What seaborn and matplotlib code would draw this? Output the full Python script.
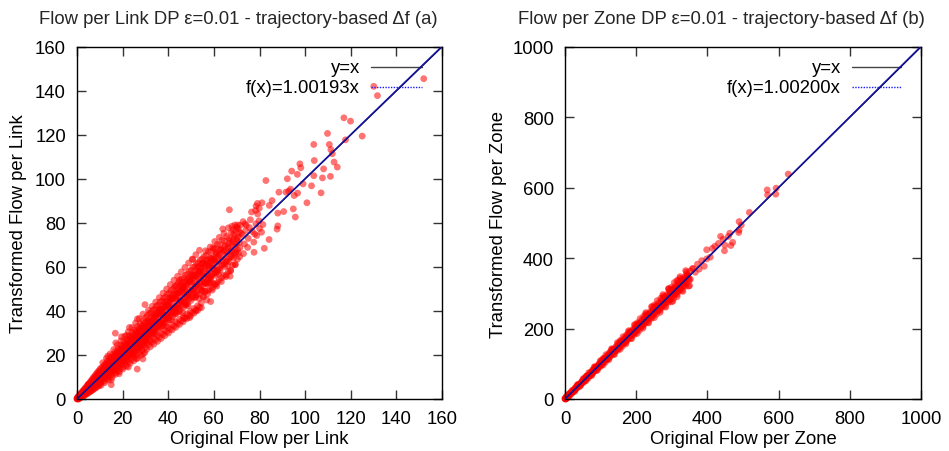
import matplotlib
matplotlib.use("Agg")
import matplotlib.pyplot as plt
import seaborn as sns
import pandas as pd

# ---------------- Panel (a): flow per link ----------------
link_origin_x = [0, 0.2, 0, 0.4, 0.1, 0.8, 0.3]
link_origin_y = [0, 0, 0.2, 0.1, 0.5, 0.0, 0.3]

link_a_x = [0.5,0.7,0.3, 1.0,1.2,0.8, 1.5,1.7,1.3, 2.0,2.2,1.8, 2.5,2.7,2.3, 3.0,3.2,2.8, 3.5,3.7,3.3,
            4.0,4.2,3.8, 4.5,4.7,4.3, 5.0,5.2,4.8, 5.5,5.7,5.3, 6.0,6.2,5.8, 6.5,6.7,6.3, 7.0,7.2,6.8,
            7.5,7.7,7.3, 8.0,8.2,7.8, 8.5,8.7,8.3, 9.0,9.2,8.8, 9.5,9.7,9.3, 10.0,10.2,9.8,
            1.2,2.3,3.4,4.6,5.4,6.6,7.4,8.6,9.4,10.1,2.8,4.1,5.9,7.1,8.3,9.1,3.9,6.2,7.9,9.8,
            0.6,1.4,2.1,2.9,3.6,4.4,5.1,5.9,6.8,7.6,8.4,9.2,9.9,1.9,3.1,4.8,6.4,8.9,5.6,7.3]
link_a_y = [0.2,1.3,0.8, 0.4,1.9,1.1, 0.6,2.5,1.4, 0.9,3.2,2.1, 1.2,3.6,2.4, 1.5,4.4,3.0, 1.8,5.1,3.2,
            2.2,5.6,4.3, 2.4,6.3,4.1, 2.9,7.0,5.4, 3.1,7.6,5.0, 3.5,8.3,6.4, 3.9,9.0,6.1, 4.2,9.8,7.5,
            4.6,10.2,7.0, 5.0,11.1,8.4, 5.3,11.6,8.0, 5.8,12.4,9.6, 6.0,12.9,9.1, 6.6,13.8,10.4,
            0.9,2.8,2.6,5.2,6.3,7.4,8.6,9.3,10.7,8.8,3.9,3.1,4.6,5.9,6.7,11.0,4.9,7.1,9.7,7.9,
            1.0,1.6,1.5,3.6,3.9,4.0,5.8,6.9,6.0,8.3,9.4,8.7,11.6,2.7,2.2,6.5,7.8,10.5,6.1,7.9]

link_b_x = [10.6,10.9,10.4,10.7, 11.2,11.5,11.0,11.3, 11.8,12.1,11.6,11.9, 12.4,12.7,12.2,12.5,
            13.0,13.3,12.8,13.1, 13.6,13.9,13.4,13.7, 14.2,14.5,14.0,14.3, 14.8,15.1,14.6,14.9,
            15.4,15.7,15.2,15.5, 16.0,16.3,15.8,16.1, 16.6,16.9,16.4,16.7, 17.2,17.5,17.0,17.3,
            17.8,18.1,17.6,17.9, 18.4,18.7,18.2,18.5, 19.0,19.3,18.8,19.1, 19.6,19.9,19.4,19.7,
            20.2,20.5,20.0,20.3, 20.8,21.1,20.6,20.9, 21.4,21.7,21.2,21.5, 22.0,22.3,21.8,22.1,
            22.6,22.9,22.4,22.7, 23.2,23.5,23.0,23.3, 23.8,24.1,23.6,23.9, 24.4,24.7,24.2,24.5,
            25.0,25.3,24.8,25.1, 25.6,25.9,25.4,25.7, 26.2,26.5,26.0,26.3, 26.8,27.1,26.6,26.9,
            27.4,27.7,27.2,27.5, 28.0,28.3,27.8,28.1, 28.6,28.9,28.4,28.7, 29.2,29.5,29.0,29.3,
            29.8,30.1,29.6,29.9,
            11.5,12.9,14.4,15.9,17.4,18.9,20.4,21.9,23.4,24.9,26.4,27.9,29.4,
            12.1,13.7,15.2,16.7,18.2,19.7,21.2,22.7,24.2,25.7,27.2,28.7,30.2,
            13.5,17.0,19.5,23.0,26.5,15.0,18.5,22.5,26.0,29.0,16.8,21.6,26.4,28.9,
            10.8,11.2,10.5, 11.6,12.0,11.3, 12.4,12.8,12.1, 13.2,13.6,12.9, 14.0,14.4,13.7,
            14.8,15.2,14.5, 15.6,16.0,15.3, 16.4,16.8,16.1, 17.2,17.6,16.9, 18.0,18.4,17.7,
            18.8,19.2,18.5, 19.6,20.0,19.3, 20.4,20.8,20.1, 21.2,21.6,20.9, 22.0,22.4,21.7,
            22.8,23.2,22.5, 23.6,24.0,23.3, 24.4,24.8,24.1, 25.2,25.6,24.9, 26.0,26.4,25.7,
            26.8,27.2,26.5, 27.6,28.0,27.3, 28.4,28.8,28.1, 29.2,29.6,28.9, 30.0,30.4,29.7]
link_b_y = [7.5,14.2,11.9,9.6, 8.9,14.6,10.3,12.8, 8.1,15.6,12.9,10.6, 9.6,16.0,11.8,14.1,
            9.2,17.3,14.0,11.6, 10.8,17.1,12.9,15.6, 10.1,18.9,15.2,12.8, 11.9,18.4,14.1,16.9,
            11.0,20.2,16.6,13.7, 12.6,19.8,15.3,18.4, 11.9,21.6,17.8,14.6, 13.7,21.1,16.5,19.4,
            12.8,23.0,18.9,15.9, 14.8,22.3,17.6,20.8, 13.9,24.4,20.3,16.8, 15.6,23.8,18.7,22.0,
            14.6,26.0,21.5,17.7, 16.9,25.1,19.9,23.4, 15.8,27.3,22.6,18.9, 17.8,26.5,21.0,24.6,
            16.9,28.8,23.9,19.8, 19.0,27.9,22.1,25.9, 17.8,30.2,25.1,20.9, 20.1,29.2,23.3,27.2,
            18.9,31.5,26.3,22.0, 21.2,30.6,24.4,28.5, 20.0,32.9,27.5,23.1, 22.4,31.9,25.6,29.8,
            21.1,34.2,28.7,24.2, 23.5,33.2,26.8,31.0, 22.2,35.6,30.0,25.3, 24.6,34.5,27.9,32.3,
            23.3,36.9,31.2,26.4,
            12.3,12.1,15.3,15.1,18.4,18.2,21.5,21.3,24.6,24.2,27.7,27.4,30.6,
            11.2,14.6,14.3,17.6,17.2,20.8,20.2,23.9,23.2,26.9,26.1,29.9,29.1,
            19.5,25.5,28.3,32.5,36.4,8.6,11.5,14.5,18.3,20.5,29.9,28.9,13.6,18.2,
            9.1,13.2,6.2, 10.4,13.6,16.5, 10.1,15.7,7.4, 11.9,15.1,18.5, 11.6,17.4,8.6,
            13.4,16.9,20.5, 12.9,19.1,9.8, 15.0,18.7,22.5, 14.4,21.0,11.2, 16.3,20.4,24.6,
            15.9,22.8,12.4, 17.9,22.1,26.5, 17.2,24.6,13.6, 19.4,23.9,28.5, 18.8,26.3,14.9,
            20.8,25.7,30.6, 20.2,28.1,16.2, 22.3,27.4,32.5, 21.6,29.9,17.4, 23.8,29.2,34.6,
            23.0,31.7,18.6, 25.3,30.9,36.6, 24.5,33.4,19.9, 26.7,32.6,38.6, 26.0,35.2,21.1]

link_c_x = [30.5,30.8,30.3,30.6, 31.3,31.6,31.1,31.4, 32.1,32.4,31.9,32.2, 32.9,33.2,32.7,33.0,
            33.7,34.0,33.5,33.8, 34.5,34.8,34.3,34.6, 35.3,35.6,35.1,35.4, 36.1,36.4,35.9,36.2,
            36.9,37.2,36.7,37.0, 37.7,38.0,37.5,37.8, 38.5,38.8,38.3,38.6, 39.3,39.6,39.1,39.4,
            40.1,40.4,39.9,40.2, 40.9,41.2,40.7,41.0, 41.7,42.0,41.5,41.8, 42.5,42.8,42.3,42.6,
            43.3,43.6,43.1,43.4, 44.1,44.4,43.9,44.2, 44.9,45.2,44.7,45.0, 45.7,46.0,45.5,45.8,
            46.5,46.8,46.3,46.6, 47.3,47.6,47.1,47.4, 48.1,48.4,47.9,48.2, 48.9,49.2,48.7,49.0,
            49.7,50.0,49.5,49.8, 50.5,50.8,50.3,50.6, 51.3,51.6,51.1,51.4, 52.1,52.4,51.9,52.2,
            52.9,53.2,52.7,53.0, 53.7,54.0,53.5,53.8, 54.5,54.8,54.3,54.6,
            30.9,32.5,34.1,35.7,37.3,38.9,40.5,42.1,43.7,45.3,46.9,48.5,50.1,51.7,53.3,
            31.7,33.3,36.5,38.1,41.3,43.0,46.1,47.7,50.9,52.5,
            29.8,47.0,49.4,52.1,56.9,58.6,50.8,44.9,63.0,67.1,
            30.8,31.2,30.5, 31.6,32.0,31.3, 32.4,32.8,32.1, 33.2,33.6,32.9, 34.0,34.4,33.7,
            34.8,35.2,34.5, 35.6,36.0,35.3, 36.4,36.8,36.1, 37.2,37.6,36.9, 38.0,38.4,37.7,
            38.8,39.2,38.5, 39.6,40.0,39.3, 40.4,40.8,40.1, 41.2,41.6,40.9, 42.0,42.4,41.7,
            42.8,43.2,42.5, 43.6,44.0,43.3, 44.4,44.8,44.1, 45.2,45.6,44.9, 46.0,46.4,45.7,
            46.8,47.2,46.5, 47.6,48.0,47.3, 48.4,48.8,48.1, 49.2,49.6,48.9, 50.0,50.4,49.7,
            50.8,51.2,50.5, 51.6,52.0,51.3, 52.4,52.8,52.1, 53.2,53.6,52.9, 54.0,54.4,53.7,
            54.8,55.2,54.5]
link_c_y = [25.2,37.8,32.4,28.1, 24.6,38.9,33.5,29.2, 26.3,39.1,34.6,29.6, 25.8,40.4,35.4,30.8,
            27.5,40.9,36.3,31.2, 26.9,42.3,37.4,32.6, 28.8,42.6,38.1,33.0, 28.1,44.0,39.0,34.2,
            30.0,44.5,39.9,34.7, 29.4,45.9,40.8,35.9, 31.2,46.2,41.7,36.4, 30.6,47.6,42.5,37.6,
            32.5,48.0,43.4,38.1, 31.8,49.3,44.2,39.3, 33.7,49.8,45.1,39.8, 33.1,51.1,45.9,41.0,
            35.0,51.5,46.8,41.5, 34.3,52.8,47.6,42.7, 36.2,53.3,48.5,43.2, 35.5,54.5,49.3,44.4,
            37.4,55.0,50.2,44.9, 36.8,56.3,51.0,46.1, 38.7,56.8,51.9,46.6, 38.0,58.0,52.7,47.8,
            39.9,58.5,53.6,48.3, 39.2,59.8,54.4,49.5, 41.2,60.2,55.3,50.0, 40.5,61.5,56.1,51.2,
            42.4,61.9,57.0,51.7, 41.7,63.2,57.8,52.9, 43.7,63.6,58.7,53.4,
            31.5,31.8,35.2,35.0,38.4,38.1,41.7,41.3,44.9,44.5,48.1,47.7,51.3,50.9,54.5,
            34.9,30.3,40.8,34.3,45.8,38.6,50.9,43.1,56.2,47.3,
            42.9,36.7,37.0,40.0,45.0,44.3,63.4,54.1,67.9,55.8,
            27.8,34.9,22.5, 29.3,35.1,40.3, 28.6,37.5,23.7, 30.8,36.8,42.1, 30.1,39.2,24.9,
            32.3,38.5,44.1, 31.5,41.0,26.2, 33.8,40.3,46.1, 33.0,42.8,27.5, 35.2,42.0,48.1,
            34.5,44.5,28.8, 36.7,43.8,50.0, 35.9,46.2,30.0, 38.2,45.5,52.0, 37.4,47.9,31.4,
            39.6,47.2,54.0, 38.9,49.7,32.6, 41.1,48.9,55.8, 40.3,51.5,33.9, 42.6,50.7,57.8,
            41.8,53.2,35.1, 44.0,52.5,59.8, 43.2,55.0,36.5, 45.5,54.2,61.8, 44.8,56.7,37.7,
            47.0,56.0,63.6, 46.2,58.5,39.0, 48.5,57.7,65.6, 47.7,60.2,40.3, 50.0,59.4,67.6,
            49.2,61.9,41.5]

link_d_x = [55.3,55.6,55.1,55.4, 56.3,56.6,56.1,56.4, 57.3,57.6,57.1,57.4, 58.3,58.6,58.1,58.4,
            59.3,59.6,59.1,59.4, 60.3,60.6,60.1,60.4, 61.3,61.6,61.1,61.4, 62.3,62.6,62.1,62.4,
            63.3,63.6,63.1,63.4, 64.3,64.6,64.1,64.4, 65.3,65.6,65.1,65.4, 66.3,66.6,66.1,66.4,
            67.3,67.6,67.1,67.4, 68.3,68.6,68.1,68.4, 69.3,69.6,69.1,69.4, 70.3,70.6,70.1,70.4,
            71.3,71.6,71.1,71.4,
            55.8,57.8,59.8,61.8,63.8,65.8,67.8,69.8,56.8,58.8,60.8,62.8,64.8,66.8,58.0,62.0,66.0,54.8,
            72.5,73.4,74.2,75.1,76.0,76.8,77.5,78.4,79.2,80.0,72.8,74.8,76.5,73.9,75.6,77.9,79.8,81.5,
            71.9,70.8,69.2,68.5,67.9,73.0,
            55.7,56.2,55.4, 56.7,57.2,56.4, 57.7,58.2,57.4, 58.7,59.2,58.4, 59.7,60.2,59.4,
            60.7,61.2,60.4, 61.7,62.2,61.4, 62.7,63.2,62.4, 63.7,64.2,63.4, 64.7,65.2,64.4,
            65.7,66.2,65.4, 66.7,67.2,66.4, 67.7,68.2,67.4, 68.7,69.2,68.4, 69.7,70.2,69.4,
            70.7,71.2,70.4]
link_d_y = [46.5,64.8,57.1,51.2, 48.9,65.2,60.3,53.0, 47.8,67.0,58.9,54.6, 50.1,66.9,61.7,55.0,
            49.5,68.8,60.5,56.7, 52.2,68.5,63.4,57.4, 51.3,70.4,62.0,58.6, 54.0,70.1,65.2,59.3,
            53.4,72.3,64.1,60.8, 56.1,71.8,66.9,61.4, 55.6,73.9,65.7,62.5, 57.9,73.0,68.6,63.7,
            58.2,75.6,67.4,64.6, 60.8,74.9,70.1,65.8, 61.0,76.8,69.2,66.3, 63.5,77.4,72.0,67.9,
            64.7,79.0,71.1,68.8,
            55.4,58.4,59.3,62.6,63.1,66.8,67.2,70.6,62.8,63.9,66.5,67.7,69.4,70.8,52.6,56.8,60.6,61.3,
            74.8,70.5,78.9,73.0,81.5,76.2,71.3,79.6,84.1,77.5,80.6,68.9,85.0,76.6,77.9,75.0,81.0,79.3,
            75.3,73.7,79.1,72.6,78.5,66.1,
            52.8,59.5,46.5, 52.4,62.0,67.4, 54.9,61.4,49.2, 54.3,64.1,69.1, 56.8,63.3,50.5,
            56.2,66.0,71.6, 59.0,65.5,52.9, 58.3,68.1,73.5, 60.9,67.4,55.1, 60.2,70.0,75.3,
            62.8,69.3,56.4, 62.4,72.1,77.8, 64.9,71.5,58.5, 64.2,74.1,76.9, 66.9,73.3,61.2,
            66.3,76.0,79.1]

link_f_x = [4.0,4.3, 4.6,4.9, 5.2,5.5, 5.8,6.1, 6.4,6.7, 7.0,7.3, 7.6,7.9, 8.2,8.5, 8.8,9.1, 9.4,9.7,
            10.0,10.3, 10.6,10.9, 11.2,11.5, 11.8,12.1, 12.4,12.7, 13.0,13.3, 13.6,13.9, 14.2,14.5,
            14.8,15.1, 15.4,15.7, 16.0,16.3, 16.6,16.9, 17.2,17.5, 17.8,18.1, 18.4,18.7, 19.0,19.3,
            19.6,19.9, 20.2,20.5, 20.8,21.1, 21.4,21.7, 22.0,22.3, 22.6,22.9, 23.2,23.5, 23.8,24.1,
            24.4,24.7, 25.0,25.3, 25.6,25.9, 26.2,26.5, 26.8,27.1, 27.4,27.7, 28.0,28.3, 28.6,28.9,
            29.2,29.5, 29.8,30.1, 30.4,30.7, 31.0,31.3, 31.6,31.9, 32.2,32.5, 32.8,33.1, 33.4,33.7,
            34.0,34.3, 34.6,34.9, 35.2,35.5, 35.8,36.1, 36.4,36.7, 37.0,37.3, 37.6,37.9, 38.2,38.5,
            38.8,39.1, 39.4,39.7, 40.0,40.3, 40.6,40.9, 41.2,41.5, 41.8,42.1, 42.4,42.7, 43.0,43.3,
            43.6,43.9, 44.2,44.5, 44.8,45.1, 45.4,45.7, 46.0,46.3, 46.6,46.9, 47.2,47.5, 47.8,48.1,
            48.4,48.7, 49.0,49.3, 49.6,49.9, 50.2,50.5, 50.8,51.1, 51.4,51.7, 52.0,52.3, 52.6,52.9,
            53.2,53.5, 53.8,54.1, 54.4,54.7, 55.0,55.3, 55.6,55.9, 56.2,56.5, 56.8,57.1, 57.4,57.7,
            58.0,58.3, 58.6,58.9, 59.2,59.5, 59.8,60.1, 60.4,60.7, 61.0,61.3]
link_f_y = [4.7,3.2, 4.8,6.3, 4.7,4.0, 6.9,5.2, 6.4,8.1, 6.7,8.0, 6.3,9.3, 7.5,8.9, 7.2,10.2, 9.2,11.9,
            10.6,7.9, 11.9,9.9, 12.2,9.8, 12.2,14.2, 11.7,10.4, 14.7,12.0, 13.6,16.0, 13.8,15.5,
            13.0,17.1, 14.4,16.3, 13.7,17.8, 16.4,19.9, 18.1,14.2, 19.6,16.7, 19.8,16.4, 19.5,22.1,
            18.6,16.8, 22.4,18.8, 20.8,23.9, 20.9,23.0, 19.6,24.9, 21.3,23.7, 20.2,25.4, 23.5,28.0,
            25.5,20.5, 27.3,23.6, 27.4,23.0, 26.8,30.1, 25.6,23.2, 30.2,25.5, 28.0,31.7, 28.0,30.5,
            26.3,32.7, 28.2,31.1, 26.7,33.0, 30.7,36.0, 33.0,26.8, 35.0,30.4, 34.9,29.6, 34.1,38.0,
            32.5,29.6, 37.9,32.3, 35.2,39.6, 35.0,38.0, 32.9,40.6, 35.1,38.5, 33.3,40.7, 37.8,44.1,
            40.4,33.0, 42.7,37.2, 42.5,36.2, 41.4,45.9, 39.5,36.0, 45.7,39.1, 42.4,47.5, 42.1,45.5,
            39.6,48.4, 42.0,45.9, 39.8,48.3, 44.9,52.2, 47.9,39.3, 50.4,44.1, 50.1,42.7, 48.8,53.9,
            46.5,42.4, 53.4,45.9, 49.6,55.4, 49.2,53.0, 46.2,56.2, 48.8,53.2, 46.3,55.9, 52.1,60.2,
            55.3,45.6, 58.1,50.9, 57.6,49.3, 56.1,61.8, 53.4,48.8, 61.2,52.6, 56.8,63.2, 56.3,60.5,
            52.9,64.0, 55.7,60.6, 52.8,63.6, 59.2,68.3, 62.8,51.9, 65.8,57.7]

link_out_x = [152.0,130.1,131.7,117.0,119.9,125.0,117.7,109.8,103.8,110.6,111.3,111.9,112.7,104.0,
              108.1,114.1,111.1,107.6,103.8,97.7,98.1,94.1,92.2,96.6,99.1,102.8,107.0,100.8,95.2,
              92.8,96.7,93.6,82.8,88.5,91.6,94.8,95.7,90.6,88.0,88.0,87.7,82.1,84.2,85.5,84.3,
              79.1,79.9,78.3,78.5,81.1,66.8,63.9,70.0,73.7,77.6,80.9,78.8,43.3,15.0]
link_out_y = [145.6,142.1,137.9,127.8,126.3,119.5,117.8,120.7,115.7,115.7,113.4,111.5,107.7,108.4,
              104.6,105.4,101.2,100.5,101.5,106.9,105.1,103.6,100.1,102.1,97.8,96.9,93.7,89.2,92.5,
              94.5,93.6,95.4,99.3,94.0,94.0,86.4,82.7,85.2,84.5,78.7,77.2,68.5,72.5,90.2,88.0,
              88.9,86.7,85.7,87.7,89.2,86.0,77.3,78.1,79.6,66.7,75.8,74.3,51.4,6.5]

# ---------------- Panel (b): flow per zone ----------------
zone_origin_x = [0, 2, 0, 1, 3]
zone_origin_y = [0, 0, 2, 1, 1]

zone_band_x = [3,5,1, 9,11,7, 15,17,13, 21,23,19, 27,29,25, 33,35,31, 39,41,37, 45,47,43, 51,53,49,
               57,59,55, 63,65,61, 69,71,67, 75,77,73, 81,83,79, 87,89,85, 93,95,91, 99,101,97,
               105,107,103, 111,113,109, 117,119,115, 123,125,121, 129,131,127, 135,137,133,
               141,143,139, 147,149,145, 153,155,151, 159,161,157, 165,167,163, 171,173,169,
               177,179,175, 183,185,181, 189,191,187, 195,197,193, 201,203,199, 207,209,205,
               213,215,211, 219,221,217, 225,227,223, 231,233,229, 237,239,235, 243,245,241,
               249,251,247, 255,257,253, 261,263,259, 267,269,265, 273,275,271, 279,281,277,
               285,287,283, 291,293,289, 297,299,295, 303,305,301, 309,311,307, 315,317,313,
               321,323,319, 327,329,325, 333,335,331, 339,341,337]
zone_band_y = [0.4,7.2,1.3, 8.0,14.2,4.9, 16.6,13.5,15.0, 18.9,24.3,18.6, 23.3,32.2,25.5, 31.5,39.5,28.0,
               41.1,36.2,39.6, 42.2,48.7,42.4, 46.1,57.3,49.6, 55.1,64.8,51.2, 65.7,58.9,64.4,
               65.4,73.1,66.3, 69.0,82.3,73.7, 78.6,90.1,74.3, 90.3,81.6,89.1, 88.7,97.6,90.1,
               91.9,107.2,97.9, 102.2,115.4,97.4, 114.9,104.3,113.8, 112.0,122.0,114.0,
               114.7,132.3,122.0, 125.8,140.6,120.6, 139.4,127.0,138.5, 135.3,146.4,137.8,
               137.6,157.3,146.2, 149.3,166.0,143.7, 164.0,149.7,163.2, 158.6,170.9,161.7,
               160.4,182.3,170.3, 172.9,191.2,167.2, 188.6,172.4,188.0, 181.8,195.3,185.6,
               183.2,210.2,194.5, 196.5,216.6,190.0, 213.2,195.1,212.7, 205.1,219.7,209.8,
               206.1,235.5,218.6, 220.0,241.9,213.1, 237.8,217.8,237.5, 228.4,244.2,233.3,
               228.9,261.7,242.8, 243.6,267.1,236.3, 262.3,240.5,262.2, 251.6,268.6,257.1,
               251.8,286.1,265.1, 267.2,292.5,260.1, 286.9,263.3,286.9, 275.0,293.0,281.0,
               274.6,311.5,291.1, 290.8,317.7,282.5, 311.5,286.0,311.6, 298.3,317.5,304.7,
               297.5,336.7,314.0, 314.3,343.1,305.6, 336.0,308.7,336.3, 321.5,341.9,329.0,
               320.4,361.1,338.5]

zone_band2_x = [5,7,3, 13,15,11, 21,23,19, 29,31,27, 37,39,35, 45,47,43, 53,55,51, 61,63,59,
                69,71,67, 77,79,75, 85,87,83, 93,95,91, 101,103,99, 109,111,107, 117,119,115,
                125,127,123, 133,135,131, 141,143,139, 149,151,147, 157,159,155, 165,167,163,
                173,175,171, 181,183,179, 189,191,187, 197,199,195, 205,207,203, 213,215,211,
                221,223,219, 229,231,227, 237,239,235, 245,247,243, 253,255,251, 261,263,259,
                269,271,267, 277,279,275, 285,287,283, 293,295,291, 301,303,299, 309,311,307,
                317,319,315, 325,327,323, 333,335,331, 341,343,339, 349,351,347]
zone_band2_y = [2.4,8.8,6.5, 10.9,17.0,6.9, 18.6,25.3,23.6, 27.0,33.6,21.8, 34.2,41.9,40.7,
                42.4,50.1,36.8, 50.2,58.4,57.7, 57.9,66.6,51.7, 65.2,75.0,74.8, 73.5,83.2,66.6,
                80.8,91.6,91.8, 88.9,99.7,81.6, 96.2,108.1,108.9, 104.5,116.0,96.6,
                111.8,124.7,126.0, 120.0,132.5,111.5, 127.3,141.1,143.0, 135.5,148.9,126.5,
                142.8,157.6,160.1, 151.0,165.4,141.4, 158.2,174.1,177.1, 166.5,181.9,156.4,
                173.7,190.6,194.2, 182.0,198.4,171.3, 189.2,207.1,211.3, 197.5,215.0,186.3,
                204.7,223.7,228.3, 212.9,231.5,201.2, 220.2,240.2,245.4, 228.4,248.0,216.1,
                235.7,256.7,262.4, 243.9,264.5,231.1, 251.2,273.2,279.5, 259.4,281.0,246.0,
                266.7,289.7,296.6, 274.9,297.5,261.0, 282.2,306.2,313.6, 290.4,314.0,275.9,
                297.7,322.7,330.7, 305.9,330.5,290.8, 313.2,339.2,347.6, 321.4,347.0,305.8,
                328.7,355.7,364.7, 337.0,363.5,320.7]

zone_core_x = [6,12,18,24,30,36,42,48,54,60,66,72,78,84,90,96,102,108,114,120,126,132,138,144,
               150,156,162,168,174,180,186,192,198,204,210,216,222,228,234,240,246,252,258,264,
               270,276,282,288,294,300,306,312,318,324,330,336,342,348,
               9,21,33,45,57,69,81,93,105,117,129,141,153,165,177,189,201,213,225,237,249,261,
               273,285,297,309,321,333,345]
zone_core_y = [6.3,11.5,18.6,23.4,30.8,35.2,42.9,47.1,55.0,59.0,67.1,70.8,79.3,82.7,91.4,94.6,
               103.6,106.4,115.8,118.1,128.0,129.9,140.2,141.7,152.4,153.5,164.6,165.3,176.8,177.1,
               189.0,188.9,201.2,200.7,213.4,212.5,225.6,224.3,237.8,236.1,250.0,247.9,262.2,259.7,
               274.4,271.5,286.6,283.3,298.8,295.1,311.0,306.9,323.2,318.7,335.4,330.5,347.6,342.3,
               9.8,20.1,34.0,44.2,58.1,68.0,82.2,91.7,106.5,115.6,130.8,139.4,155.0,163.1,179.3,
               186.8,203.6,210.7,228.0,234.5,252.3,258.4,276.5,282.1,300.9,305.8,325.0,329.6,349.2]

zone_out_x = [627,568,569,593,592,518,489,495,488,489,463,459,471,437,444,449,466,431,421,398,
              414,448,384,398,408,377,360,342,350,333,314,391,372,323,345,352,358,366,306,303,291]
zone_out_y = [639,594,580,599,582,530,504,494,473,480,471,462,445,462,454,437,436,442,434,424,
              428,421,393,398,403,369,371,350,322,331,336,377,383,312,352,340,370,360,303,278,313]

link_slope = 1.00193
zone_slope = 1.00200
link_ticks = [0, 20, 40, 60, 80, 100, 120, 140, 160]
zone_ticks = [0, 200, 400, 600, 800, 1000]

link_x = link_origin_x + link_a_x + link_b_x + link_c_x + link_d_x + link_f_x + link_out_x
link_y = link_origin_y + link_a_y + link_b_y + link_c_y + link_d_y + link_f_y + link_out_y
zone_x = zone_origin_x + zone_band_x + zone_band2_x + zone_core_x + zone_out_x
zone_y = zone_origin_y + zone_band_y + zone_band2_y + zone_core_y + zone_out_y

sns.set_theme(style="white")
plt.rcParams["font.family"] = ["Liberation Sans", "DejaVu Sans"]

W, H = 949, 452
fig = plt.figure(figsize=(W / 100, H / 100), dpi=100)
axA = fig.add_axes([77 / W, 52 / H, 365 / W, 352 / H])
axB = fig.add_axes([565 / W, 52 / H, 356 / W, 352 / H])

FS = 13.3


def panel(ax, xs, ys, slope, ticks, xlabel, ylabel, fit_label, ylab_x):
    lim = ticks[-1]
    df = pd.DataFrame({"x": xs, "y": ys})
    sns.scatterplot(data=df, x="x", y="y", ax=ax, color="#ff0000", alpha=0.55, s=24,
                    edgecolor="none", linewidth=0, clip_on=False, zorder=2, legend=False)
    ident = pd.DataFrame({"x": [0, lim], "y": [0, lim]})
    sns.lineplot(data=ident, x="x", y="y", ax=ax, color="black", lw=0.9, zorder=3)
    fit = pd.DataFrame({"x": [0, lim], "y": [0, slope * lim]})
    sns.lineplot(data=fit, x="x", y="y", ax=ax, color="#1414a8", lw=1.1, zorder=4)
    ax.set_xlim(0, lim)
    ax.set_ylim(0, lim)
    ax.set_xticks(ticks)
    ax.set_yticks(ticks)
    ax.set_xticklabels([str(t) for t in ticks])
    ax.set_yticklabels([str(t) for t in ticks])
    ax.tick_params(direction="in", length=6.5, width=1.0, color="#333333",
                   labelsize=FS, labelcolor="black", pad=8,
                   bottom=True, left=True, top=True, right=True)
    for sp in ax.spines.values():
        sp.set_visible(True)
        sp.set_color("black")
        sp.set_linewidth(1.0)
    ax.grid(False)
    ax.set_xlabel(xlabel, fontsize=FS, color="black")
    ax.set_ylabel(ylabel, fontsize=FS, color="black")
    ax.xaxis.set_label_coords(0.5, -0.088)
    ax.yaxis.set_label_coords(ylab_x, 0.5)
    # key (gnuplot style: right-justified text, sample to the right)
    ax.text(0.775, 0.943, "y=x", transform=ax.transAxes, ha="right", va="center",
            fontsize=FS, color="black")
    ax.text(0.775, 0.886, fit_label, transform=ax.transAxes, ha="right", va="center",
            fontsize=FS, color="black")
    ax.plot([0.805, 0.945], [0.943, 0.943], transform=ax.transAxes, color="#444444", lw=1.0)
    ax.plot([0.805, 0.945], [0.886, 0.886], transform=ax.transAxes, color="#1a1aff", lw=1.0,
            linestyle=(0, (1, 1)))


panel(axA, link_x, link_y, link_slope, link_ticks, "Original Flow per Link",
      "Transformed Flow per Link", "f(x)=1.00193x", -0.137)
panel(axB, zone_x, zone_y, zone_slope, zone_ticks, "Original Flow per Zone",
      "Transformed Flow per Zone", "f(x)=1.00200x", -0.163)

fig.text(238 / W, 1 - 19 / H, "Flow per Link DP ε=0.01 - trajectory-based Δf (a)",
         ha="center", va="center", fontsize=FS)
fig.text(721 / W, 1 - 19 / H, "Flow per Zone DP ε=0.01 - trajectory-based Δf (b)",
         ha="center", va="center", fontsize=FS)

fig.savefig("out.png", dpi=100)
